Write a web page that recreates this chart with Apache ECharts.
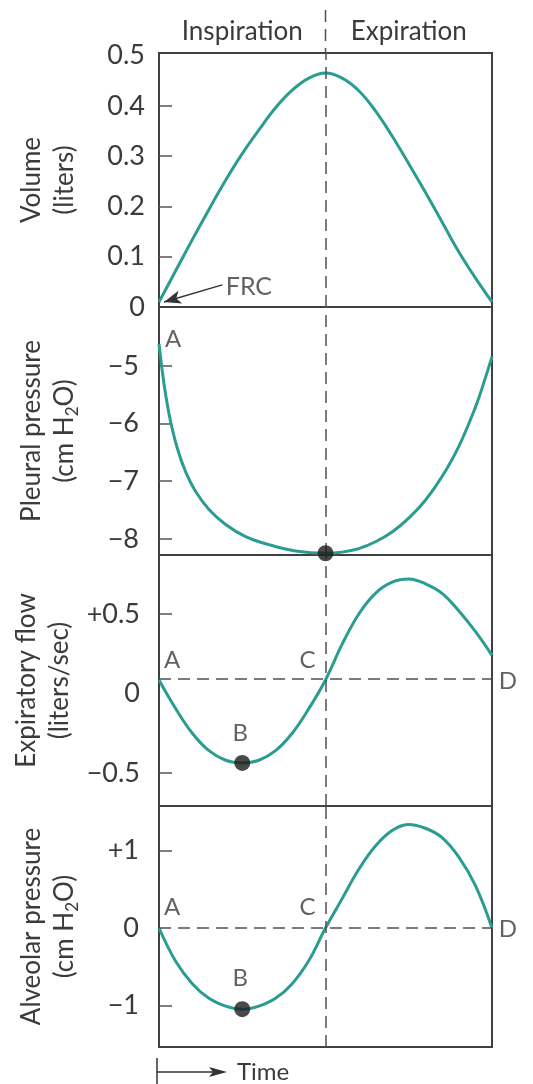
<!DOCTYPE html>
<html>
<head>
<meta charset="utf-8">
<script src="https://cdn.jsdelivr.net/npm/echarts@6/dist/echarts.min.js"></script>
<style>
  html, body { margin: 0; padding: 0; background: #fff; }
  #chart { width: 533px; height: 1084px; }
</style>
</head>
<body>
<div id="chart"></div>
<script>
// One breathing cycle on a normalised time axis: inspiration 0–0.5, expiration 0.5–1
const phaseLabels = ['Inspiration', 'Expiration'];
const phaseBoundary = 0.5;

// Lung volume above FRC (liters)
const timeVolume = [0, 0.05, 0.10, 0.15, 0.20, 0.25, 0.30, 0.35, 0.40, 0.45, 0.50,
                    0.55, 0.60, 0.65, 0.70, 0.75, 0.80, 0.85, 0.90, 0.95, 1.00];
const volume = [0.01, 0.072, 0.134, 0.194, 0.252, 0.305, 0.352, 0.396, 0.431, 0.455, 0.465,
                0.455, 0.43, 0.39, 0.34, 0.285, 0.228, 0.169, 0.11, 0.058, 0.01];

// Pleural pressure (cm H2O)
const timePleural = [0, 0.01, 0.02, 0.035, 0.055, 0.08, 0.11, 0.15, 0.20, 0.26, 0.33,
                     0.41, 0.50, 0.55, 0.60, 0.65, 0.70, 0.75, 0.80, 0.85, 0.90, 0.95, 0.975, 1.00];
const pleural = [-4.62, -5.10, -5.50, -5.97, -6.43, -6.84, -7.18, -7.49, -7.75, -7.96, -8.10,
                 -8.21, -8.25, -8.23, -8.17, -8.05, -7.88, -7.64, -7.33, -6.92, -6.40, -5.72, -5.30, -4.84];

// Expiratory flow (liters/sec)
const timeFlow = timeVolume;
const flow = [0.085, -0.095, -0.25, -0.36, -0.42, -0.437, -0.42, -0.36, -0.25, -0.095, 0.085,
              0.31, 0.50, 0.63, 0.70, 0.72, 0.69, 0.63, 0.52, 0.39, 0.24];
const flowZeroLine = 0.085;

// Alveolar pressure (cm H2O)
const timeAlveolar = timeVolume;
const alveolar = [0, -0.43, -0.72, -0.91, -1.01, -1.05, -1.01, -0.91, -0.72, -0.42, 0,
                  0.38, 0.76, 1.06, 1.26, 1.34, 1.29, 1.17, 0.92, 0.55, 0];

// Tick labels on each panel
const volumeTicks = [0, 0.1, 0.2, 0.3, 0.4, 0.5];
const volumeTickMarks = [0.1, 0.2, 0.3, 0.4];
const pleuralTicks = [-8, -7, -6, -5];
const flowTicks = [-0.5, 0, 0.5];
const flowTickMarks = [-0.5, 0.5];
const alveolarTicks = [-1, 0, 1];
const alveolarTickMarks = [-1, 1];

// Axis extents
const volumeRange = [0, 0.505];
const pleuralRange = [-8.28, -3.98];
const flowRange = [-0.708, 0.871];
const alveolarRange = [-1.539, 1.578];

const TEAL = '#2a9c90';
const INK = '#3b3b3b';
const FONT = 'Lato, "Open Sans", sans-serif';
const DASH = { type: [12, 7], color: '#505050', width: 1.5 };

const pairs = (t, v) => t.map((x, i) => [x, v[i]]);
const argMin = v => v.reduce((m, x, i) => (x < v[m] ? i : m), 0);
const signed = v => (v > 0 ? '+' + v : v < 0 ? '\u2212' + Math.abs(v) : '0');

const grids = [
  { left: 159, width: 333, top: 53, height: 254 },
  { left: 159, width: 333, top: 307, height: 248 },
  { left: 159, width: 333, top: 555, height: 251 },
  { left: 159, width: 333, top: 806, height: 241 }
].map(g => Object.assign(g, { show: true, borderColor: '#404040', borderWidth: 2, backgroundColor: 'transparent' }));

const xAxes = grids.map((g, i) => ({
  gridIndex: i, type: 'value', min: 0, max: 1, show: false
}));

function yAxis(i, range, labels, marks, fmt, name, margin) {
  return {
    gridIndex: i, type: 'value', min: range[0], max: range[1],
    axisLine: { show: false },
    splitLine: { show: false },
    axisTick: { show: true, inside: true, length: 13, customValues: marks,
                lineStyle: { color: '#555', width: 1.5 } },
    axisLabel: { customValues: labels, formatter: fmt, margin: margin,
                 fontSize: 27, color: INK, fontFamily: FONT },
    name: name, nameLocation: 'middle', nameRotate: 90, nameGap: 78,
    nameTextStyle: {
      color: INK, fontFamily: FONT, fontSize: 26, lineHeight: 33,
      rich: {
        n: { fontSize: 26, lineHeight: 33, color: INK, fontFamily: FONT },
        s: { fontSize: 17, lineHeight: 19, verticalAlign: 'bottom', color: INK, fontFamily: FONT }
      }
    }
  };
}

const yAxes = [
  yAxis(0, volumeRange, volumeTicks, volumeTickMarks,
        v => (v === 0 ? '0' : v.toFixed(1)), '{n|Volume}\n{n|(liters)}', 14),
  yAxis(1, pleuralRange, pleuralTicks, pleuralTicks,
        v => '\u2212' + Math.abs(v), '{n|Pleural pressure}\n{n|(cm H}{s|2}{n|O)}', 20),
  yAxis(2, flowRange, flowTicks, flowTickMarks,
        signed, '{n|Expiratory flow}\n{n|(liters/sec)}', 19),
  yAxis(3, alveolarRange, alveolarTicks, alveolarTickMarks,
        signed, '{n|Alveolar pressure}\n{n|(cm H}{s|2}{n|O)}', 20)
];

function curve(i, t, v, extraLines) {
  return {
    type: 'line', xAxisIndex: i, yAxisIndex: i, data: pairs(t, v),
    smooth: 0.4, symbol: 'none', z: 3,
    lineStyle: { color: TEAL, width: 3 },
    markLine: {
      silent: true, symbol: 'none', label: { show: false }, lineStyle: DASH,
      data: [{ xAxis: phaseBoundary }].concat(extraLines || [])
    }
  };
}

function dots(i, pts) {
  return {
    type: 'scatter', xAxisIndex: i, yAxisIndex: i, data: pts, z: 5,
    symbolSize: 16, itemStyle: { color: '#1c1c1c' }
  };
}

function letters(i, items, size) {
  return {
    type: 'scatter', xAxisIndex: i, yAxisIndex: i, symbolSize: 0, z: 6, silent: true,
    data: items.map(d => ({ value: d.at, name: d.text, label: { offset: d.offset } })),
    label: { show: true, position: 'inside', formatter: '{b}',
             fontSize: size || 24, color: INK, fontFamily: FONT }
  };
}

const bFlow = argMin(flow);
const bAlv = argMin(alveolar);
const pMin = argMin(pleural);

const series = [
  curve(0, timeVolume, volume),
  curve(1, timePleural, pleural),
  curve(2, timeFlow, flow, [{ yAxis: flowZeroLine }]),
  curve(3, timeAlveolar, alveolar, [{ yAxis: 0 }]),

  // FRC pointer at the start of inspiration
  {
    type: 'line', xAxisIndex: 0, yAxisIndex: 0, data: [], silent: true,
    markLine: {
      silent: true, label: { show: false }, symbolSize: [10, 17],
      lineStyle: { color: '#333', width: 1.5, type: 'solid' },
      data: [[{ coord: [0.19, 0.044], symbol: 'none' },
              { coord: [timeVolume[0] + 0.015, volume[0]], symbol: 'arrow' }]]
    }
  },
  letters(0, [{ at: [0.27, 0.04], text: 'FRC', offset: [0, 0] }], 25),

  dots(1, [[timePleural[pMin], pleural[pMin]]]),
  letters(1, [{ at: [timePleural[0], pleural[0]], text: 'A', offset: [14, -5] }]),

  dots(2, [[timeFlow[bFlow], flow[bFlow]]]),
  letters(2, [
    { at: [timeFlow[0], flow[0]], text: 'A', offset: [13, -20] },
    { at: [timeFlow[bFlow], flow[bFlow]], text: 'B', offset: [-2, -30] },
    { at: [phaseBoundary, flowZeroLine], text: 'C', offset: [-18, -20] },
    { at: [1, flowZeroLine], text: 'D', offset: [16, 1] }
  ]),

  dots(3, [[timeAlveolar[bAlv], alveolar[bAlv]]]),
  letters(3, [
    { at: [timeAlveolar[0], alveolar[0]], text: 'A', offset: [13, -21] },
    { at: [timeAlveolar[bAlv], alveolar[bAlv]], text: 'B', offset: [-2, -31] },
    { at: [phaseBoundary, 0], text: 'C', offset: [-18, -21] },
    { at: [1, 0], text: 'D', offset: [16, 1] }
  ])
];

const chart = echarts.init(document.getElementById('chart'), null, { renderer: 'canvas' });
chart.setOption({
  backgroundColor: '#fff',
  animation: false,
  grid: grids, xAxis: xAxes, yAxis: yAxes, series: series
});

// Phase headings, top of the phase divider, and the time arrow
const px = (g, t, v) => chart.convertToPixel({ gridIndex: g }, [t, v]);
const [xMid, yTop] = px(0, phaseBoundary, volumeRange[1]);
const xLeft = px(0, 0, 0)[0];
const xRight = px(0, 1, 0)[0];
const yBottom = px(3, 0, alveolarRange[0])[1];
const yArrow = yBottom + 25;
const textStyle = { fill: INK, fontSize: 26, fontFamily: FONT, align: 'center', verticalAlign: 'middle' };

chart.setOption({
  graphic: [
    { type: 'line', silent: true, shape: { x1: xMid, y1: 10, x2: xMid, y2: yTop },
      style: { stroke: '#505050', lineWidth: 1.5, lineDash: [12, 7] } },
    { type: 'text', x: (xLeft + xMid) / 2, y: 32, style: Object.assign({ text: phaseLabels[0] }, textStyle) },
    { type: 'text', x: (xMid + xRight) / 2, y: 32, style: Object.assign({ text: phaseLabels[1] }, textStyle) },
    { type: 'line', silent: true, shape: { x1: xLeft - 2, y1: yBottom + 11, x2: xLeft - 2, y2: 1084 },
      style: { stroke: '#333', lineWidth: 1.5 } },
    { type: 'line', silent: true, shape: { x1: xLeft - 2, y1: yArrow, x2: xLeft + 56, y2: yArrow },
      style: { stroke: '#333', lineWidth: 1.5 } },
    { type: 'polygon', silent: true,
      shape: { points: [[xLeft + 68, yArrow], [xLeft + 50, yArrow - 5], [xLeft + 54, yArrow], [xLeft + 50, yArrow + 5]] },
      style: { fill: '#333' } },
    { type: 'text', x: xLeft + 78, y: yArrow,
      style: Object.assign({ text: 'Time' }, textStyle, { align: 'left', fontSize: 24 }) }
  ]
});
</script>
</body>
</html>
